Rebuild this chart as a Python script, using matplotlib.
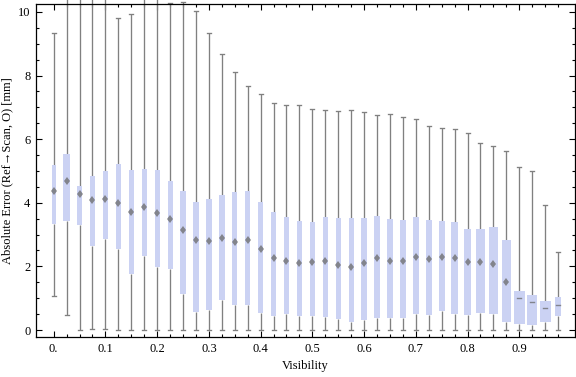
import matplotlib
matplotlib.use("Agg")
import matplotlib.pyplot as plt
from matplotlib.patches import Rectangle
from matplotlib.ticker import MultipleLocator, FixedLocator

# ---------------- data ----------------
visibility = [0.000, 0.025, 0.050, 0.075, 0.100, 0.125, 0.150, 0.175,
              0.200, 0.225, 0.250, 0.275, 0.300, 0.325, 0.350, 0.375,
              0.400, 0.425, 0.450, 0.475, 0.500, 0.525, 0.550, 0.575,
              0.600, 0.625, 0.650, 0.675, 0.700, 0.725, 0.750, 0.775,
              0.800, 0.825, 0.850, 0.875, 0.900, 0.925, 0.950, 0.975]

whisker_low = [1.07, 0.47, 0.00, 0.02, 0.02, 0.00, 0.00, 0.00,
               0.00, 0.00, 0.00, 0.00, 0.00, 0.00, 0.00, 0.00,
               0.00, 0.00, 0.00, 0.00, 0.00, 0.00, 0.00, 0.00,
               0.00, 0.00, 0.00, 0.00, 0.00, 0.00, 0.00, 0.00,
               0.00, 0.00, 0.00, 0.00, 0.00, 0.00, 0.00, 0.00]

q1 = [3.34, 3.44, 3.31, 2.65, 2.87, 2.56, 1.77, 2.33,
      1.99, 1.92, 1.14, 0.58, 0.63, 0.94, 0.80, 0.80,
      0.52, 0.45, 0.51, 0.45, 0.45, 0.41, 0.36, 0.26,
      0.32, 0.39, 0.39, 0.39, 0.51, 0.48, 0.60, 0.51,
      0.48, 0.54, 0.51, 0.26, 0.20, 0.17, 0.26, 0.45]

median = [4.38, 4.69, 4.29, 4.09, 4.13, 3.98, 3.70, 3.86,
          3.69, 3.49, 3.13, 2.82, 2.81, 2.89, 2.78, 2.84,
          2.55, 2.26, 2.16, 2.12, 2.13, 2.16, 2.05, 1.97,
          2.12, 2.27, 2.16, 2.18, 2.29, 2.24, 2.29, 2.26,
          2.13, 2.15, 2.09, 1.52, 1.00, 0.88, 0.70, 0.79]

q3 = [5.19, 5.53, 4.53, 4.84, 5.00, 5.22, 5.03, 5.06,
      5.03, 4.69, 4.37, 4.03, 4.12, 4.25, 4.34, 4.37,
      4.03, 3.71, 3.55, 3.43, 3.40, 3.55, 3.51, 3.52,
      3.52, 3.58, 3.49, 3.46, 3.55, 3.46, 3.43, 3.40,
      3.18, 3.18, 3.24, 2.83, 1.23, 1.10, 0.91, 1.04]

whisker_high = [9.33, 10.9, 11.2, 10.8, 11.0, 9.80, 9.92, 10.7,
                10.6, 10.29, 10.32, 10.02, 9.33, 8.67, 8.10, 7.66,
                7.41, 7.13, 7.07, 7.07, 6.94, 6.91, 6.88, 6.91,
                6.85, 6.75, 6.78, 6.69, 6.63, 6.41, 6.34, 6.31,
                6.19, 5.87, 5.78, 5.62, 5.12, 4.99, 3.92, 2.44]

# relative box widths (as drawn in the reference)
box_rel_width = [4.3, 6.3, 5.3, 5.0, 5.0, 5.0, 5.0, 4.7,
                 5.0, 5.0, 5.3, 6.0, 6.0, 6.0, 5.0, 5.3,
                 5.3, 5.0, 5.0, 5.0, 5.3, 5.0, 5.0, 5.0,
                 6.0, 6.0, 6.0, 6.0, 6.0, 6.0, 6.0, 7.7,
                 7.3, 9.0, 9.3, 9.0, 11.0, 10.0, 11.0, 6.3]

x_major_ticks = [0.0, 0.1, 0.2, 0.3, 0.4, 0.5, 0.6, 0.7, 0.8, 0.9]
x_tick_labels = ["0.", "0.1", "0.2", "0.3", "0.4", "0.5", "0.6", "0.7", "0.8", "0.9"]
y_major_ticks = [0, 2, 4, 6, 8, 10]
y_tick_labels = ["0", "2", "4", "6", "8", "10"]

# ---------------- style ----------------
W, H, DPI = 576, 377, 100
fig = plt.figure(figsize=(W / DPI, H / DPI), dpi=DPI)
ax = fig.add_axes([36 / W, 1 - 337 / H, (575 - 36) / W, (337 - 4) / H])

xmin, xmax = -0.0342, 1.0077
ymin, ymax = -0.22, 10.25
ax.set_xlim(xmin, xmax)
ax.set_ylim(ymin, ymax)

serif = ["Liberation Serif", "DejaVu Serif"]
box_color = "#CBD2F3"
whisk_color = "#808080"
med_color = "#6A6A6A"

px_per_unit = ax.get_position().width * W / (xmax - xmin)
cap_half = 2.0 / px_per_unit

for i, x in enumerate(visibility):
    w = box_rel_width[i] / px_per_unit
    # whiskers
    ax.plot([x, x], [q3[i], whisker_high[i]], color=whisk_color, lw=0.95,
            solid_capstyle="butt", clip_on=False, zorder=2)
    ax.plot([x, x], [whisker_low[i], q1[i]], color=whisk_color, lw=0.95,
            solid_capstyle="butt", clip_on=False, zorder=2)
    ax.plot([x - cap_half, x + cap_half], [whisker_high[i]] * 2, color=whisk_color,
            lw=0.95, clip_on=False, zorder=2)
    ax.plot([x - cap_half, x + cap_half], [whisker_low[i]] * 2, color=whisk_color,
            lw=0.95, clip_on=False, zorder=2)
    # box
    ax.add_patch(Rectangle((x - w / 2, q1[i]), w, q3[i] - q1[i], facecolor=box_color,
                           edgecolor="none", zorder=3))
    # median marker
    if q3[i] - q1[i] > 1.1:
        ax.plot([x], [median[i]], marker="d", markersize=4.3, color=med_color,
                markeredgewidth=0, alpha=0.75, zorder=4)
    else:
        ax.plot([x - 2.0 / px_per_unit, x + 2.0 / px_per_unit], [median[i]] * 2,
                color=med_color, lw=1.0, alpha=0.75, zorder=4)

# axes / ticks
for s in ax.spines.values():
    s.set_color("black")
    s.set_linewidth(0.9)

ax.xaxis.set_major_locator(FixedLocator(x_major_ticks))
ax.set_xticklabels(x_tick_labels)
ax.xaxis.set_minor_locator(FixedLocator(visibility))
ax.yaxis.set_major_locator(FixedLocator(y_major_ticks))
ax.set_yticklabels(y_tick_labels)
ax.yaxis.set_minor_locator(MultipleLocator(0.5))

ax.tick_params(which="both", direction="in", top=True, right=True, color="black",
               width=0.8, labelsize=9, labelcolor="black")
ax.tick_params(which="major", length=4.0)
ax.tick_params(which="minor", length=2.5)
ax.tick_params(axis="x", which="major", pad=4)
ax.tick_params(axis="y", which="major", pad=4)
for lab in ax.get_xticklabels() + ax.get_yticklabels():
    lab.set_family(serif)

ax.set_xlabel("Visibility", family=serif, fontsize=9, labelpad=4)
ax.set_ylabel("Absolute Error (Ref\u2192Scan, O) [mm]", family=serif, fontsize=9,
              labelpad=3)

fig.savefig("out.png", dpi=DPI)
